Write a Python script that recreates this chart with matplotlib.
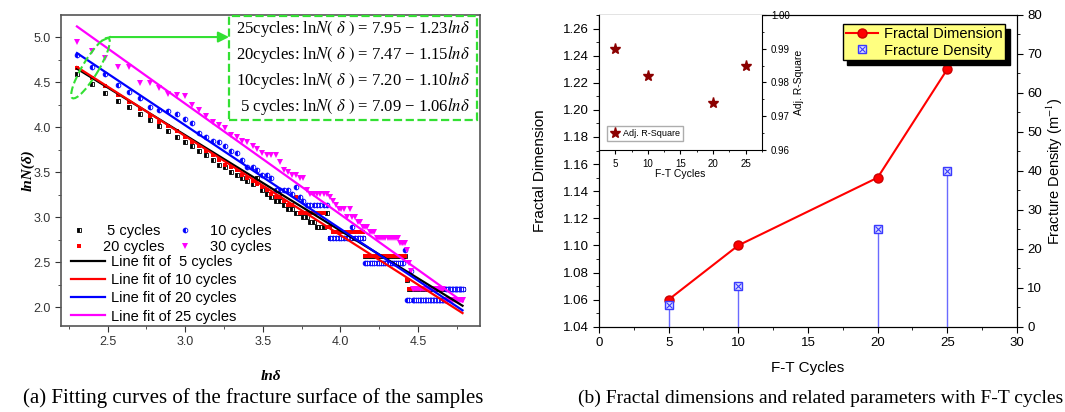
import numpy as np
import matplotlib.pyplot as plt
from matplotlib.patches import Ellipse, Rectangle
from matplotlib.transforms import IdentityTransform
from matplotlib.legend_handler import HandlerTuple
from matplotlib.ticker import MultipleLocator

plt.rcParams['font.family'] = ['Liberation Sans', 'DejaVu Sans']
plt.rcParams['mathtext.fontset'] = 'stix'

# ---------------- (a) box counting data ----------------
delta = np.arange(10, 121)  # box size

black_N = [98, 88, 80, 73, 68, 63, 59, 55, 52, 49,
           46, 44, 42, 40, 38, 36, 35, 33, 32, 31,
           30, 29, 31, 27, 26, 25, 24, 24, 23, 22,
           22, 21, 21, 20, 20, 19, 19, 18, 18, 18,
           21, 16, 16, 16, 16, 16, 16, 16, 16, 16,
           16, 16, 16, 16, 13, 13, 13, 13, 13, 13,
           13, 13, 13, 13, 13, 13, 13, 13, 13, 13,
           13, 13, 13, 13, 10, 9, 9, 9, 9, 9,
           9, 9, 9, 9, 9, 9, 9, 9, 9, 9,
           9, 9, 9, 9, 9, 9, 9, 9, 9, 9,
           9, 9, 9, 9, 9, 9, 9, 9, 9, 9, 9]
red_N = [105, 94, 86, 78, 72, 67, 62, 58, 55, 52,
         49, 46, 44, 42, 40, 38, 36, 35, 34, 32,
         31, 30, 29, 28, 27, 26, 25, 25, 24, 23,
         23, 25, 21, 21, 21, 21, 21, 21, 21, 21,
         18, 18, 17, 17, 17, 17, 17, 17, 17, 17,
         17, 17, 17, 17, 13, 13, 13, 13, 13, 13,
         13, 13, 13, 13, 13, 13, 13, 13, 13, 13,
         13, 13, 13, 13, 10, 9, 9, 9, 9, 9,
         9, 9, 9, 9, 9, 9, 9, 9, 9, 9,
         9, 9, 9, 9, 9, 9, 9, 9, 9, 9,
         9, 9, 9, 9, 9, 9, 9, 9, 9, 9, 9]
blue_N = [121, 106, 98, 87, 81, 75, 68, 66, 65, 63,
          60, 57, 51, 49, 47, 46, 44, 42, 41, 38,
          35, 35, 34, 32, 32, 31, 27, 27, 27, 27,
          26, 28, 25, 24, 23, 23, 23, 23, 23, 23,
          23, 16, 16, 16, 16, 16, 16, 16, 16, 18,
          16, 16, 16, 16, 12, 12, 12, 12, 12, 12,
          12, 12, 12, 12, 12, 12, 12, 12, 12, 12,
          12, 12, 12, 14, 8, 8, 11, 8, 8, 8,
          8, 8, 8, 8, 8, 8, 8, 8, 8, 8,
          8, 8, 8, 8, 8, 8, 8, 8, 9, 9,
          9, 9, 9, 9, 9, 9, 9, 9, 9, 9, 9]
mag_N = [141, 127, 117, 107, 106, 89, 89, 84, 79, 78,
         77, 70, 66, 62, 58, 56, 54, 50, 49, 47,
         46, 44, 43, 41, 40, 40, 40, 37, 34, 33,
         32, 32, 31, 31, 27, 26, 26, 26, 26, 26,
         26, 25, 24, 23, 22, 22, 22, 20, 22, 20,
         20, 19, 19, 18, 18, 18, 17, 17, 17, 16,
         16, 16, 16, 16, 16, 16, 16, 16, 16, 16,
         15, 15, 15, 15, 14, 12, 11, 9, 9, 9,
         9, 9, 9, 9, 9, 9, 9, 9, 9, 9,
         9, 9, 9, 9, 9, 9, 9, 8, 8, 8,
         8, 8, 8, 8, 8, 8, 8, 8, 8, 8, 8]

fit_labels = ['Line fit of  5 cycles', 'Line fit of 10 cycles',
              'Line fit of 20 cycles', 'Line fit of 25 cycles']
fit_a = [7.09, 7.20, 7.47, 7.95]
fit_b = [1.06, 1.10, 1.15, 1.23]
eq_labels = ['25cycles', '20cycles', '10cycles', ' 5 cycles']
eq_a = ['7.95', '7.47', '7.20', '7.09']
eq_b = ['1.23', '1.15', '1.10', '1.06']

# ---------------- (b) fractal dimension ----------------
cycles = [5, 10, 20, 25]
fractal_dim = [1.06, 1.10, 1.15, 1.23]
density = [5.5, 10.5, 25.2, 40.0]
adj_r2 = [0.990, 0.982, 0.974, 0.985]

green = '#33e033'
fig = plt.figure(figsize=(10.65, 4.12), dpi=100)

# ---------- left panel ----------
ax = fig.add_axes([0.0573, 0.2087, 0.3934, 0.7549])
x = np.log(delta)
ax.plot(x, np.log(black_N), ls='none', marker='s', ms=3.0, color='black',
        fillstyle='left', markerfacecoloralt='white', mew=0.6, label=' 5 cycles')
ax.plot(x, np.log(red_N), ls='none', marker='s', ms=3.2, color='red', mew=0, label='20 cycles')
ax.plot(x, np.log(blue_N), ls='none', marker='o', ms=3.4, color='blue',
        fillstyle='left', markerfacecoloralt='white', mew=0.6, label='10 cycles')
ax.plot(x, np.log(mag_N), ls='none', marker='v', ms=3.8, color='magenta', mew=0, label='30 cycles')

xf = np.array([x.min(), x.max()])
fit_colors = ['black', 'red', 'blue', 'magenta']
fit_lines = []
for a, b, c, lab in zip(fit_a, fit_b, fit_colors, fit_labels):
    ln, = ax.plot(xf, a - b * xf, color=c, lw=1.6, label=lab)
    fit_lines.append(ln)

ax.set_xlim(2.2, 4.9)
ax.set_ylim(1.79, 5.245)
ax.xaxis.set_major_locator(MultipleLocator(0.5))
ax.xaxis.set_minor_locator(MultipleLocator(0.25))
ax.yaxis.set_major_locator(MultipleLocator(0.5))
ax.yaxis.set_minor_locator(MultipleLocator(0.25))
ax.tick_params(which='both', direction='out', labelsize=9, colors='#333333')
ax.tick_params(which='major', length=4)
ax.tick_params(which='minor', length=2)
for s in ax.spines.values():
    s.set_color('#555555')
    s.set_linewidth(1.2)
ax.set_xlabel('lnδ', family='Liberation Serif', style='italic', weight='bold', fontsize=11)
ax.set_ylabel('lnN(δ)', family='Liberation Serif', style='italic', weight='bold', fontsize=11)
ax.xaxis.set_label_coords(0.5, -0.142)
ax.yaxis.set_label_coords(-0.062, 0.5)

h = ax.get_legend_handles_labels()[0]
leg1 = ax.legend([h[0], h[1], h[2], h[3]], [' 5 cycles', '20 cycles', '10 cycles', '30 cycles'],
                 ncol=2, loc='upper left', bbox_to_anchor=(0.0, 0.36), frameon=False,
                 fontsize=10.5, handlelength=1.0, handletextpad=1.2, columnspacing=0.9,
                 labelspacing=0.15, borderpad=0.2, numpoints=1)
ax.add_artist(leg1)
ax.legend(fit_lines, fit_labels, loc='lower left', bbox_to_anchor=(0.0, -0.025), frameon=False,
          fontsize=10.5, handlelength=2.3, handletextpad=0.4, labelspacing=0.28, borderpad=0.2)

# equation box
ax.add_patch(Rectangle((0.401, 0.662), 0.592, 0.335, transform=ax.transAxes, fill=True,
                       fc='white', ec=green, ls='--', lw=1.6, zorder=5))
for i, (lab, a, b) in enumerate(zip(eq_labels, eq_a, eq_b)):
    ax.text(0.975, 0.956 - i * 0.083,
            lab + r': ln$N(\ \delta\ )$ = ' + a + ' − ' + b + r'$ln\delta$',
            transform=ax.transAxes, ha='right', va='center', fontsize=12,
            family='Liberation Serif', zorder=6)

# ellipse + arrow
cx, cy = ax.transData.transform((2.39, 4.655))
ax.add_patch(Ellipse((cx, cy), 70, 16, angle=59, transform=IdentityTransform(),
                     fill=False, ec=green, ls='--', lw=1.5, clip_on=False, zorder=6))
ax.plot([2.47, 2.515], [4.965, 5.0], color=green, lw=1.5, zorder=6)
ax.annotate('', xy=(3.283, 5.0), xytext=(2.515, 5.0),
            arrowprops=dict(arrowstyle='-|>', color=green, lw=1.5, mutation_scale=16,
                            shrinkA=0, shrinkB=0), zorder=6)

# ---------- right panel ----------
ax2 = fig.add_axes([0.5624, 0.207, 0.3925, 0.7566])
h_fd, = ax2.plot(cycles, fractal_dim, '-o', color='red', ms=6.5, lw=1.5, mec='#cc0000')
ax2.set_xlim(0, 30)
ax2.set_ylim(1.04, 1.27)
ax2.xaxis.set_major_locator(MultipleLocator(5))
ax2.xaxis.set_minor_locator(MultipleLocator(2.5))
ax2.yaxis.set_major_locator(MultipleLocator(0.02))
ax2.yaxis.set_minor_locator(MultipleLocator(0.01))
ax2.tick_params(which='both', direction='out', labelsize=9.5)
ax2.tick_params(which='major', length=4)
ax2.tick_params(which='minor', length=2)
ax2.set_xlabel('F-T Cycles', fontsize=11)
ax2.set_ylabel('Fractal Dimension', fontsize=11)
ax2.xaxis.set_label_coords(0.5, -0.11)
ax2.yaxis.set_label_coords(-0.124, 0.5)

ax3 = ax2.twinx()
ax3.vlines(cycles, 0, density, color='#6a6aff', lw=1)
h_sq, = ax3.plot(cycles, density, ls='none', marker='s', ms=6, mfc='#dde0ff', mec='#3a3aff', mew=1)
h_x, = ax3.plot(cycles, density, ls='none', marker='x', ms=5, color='#3a3aff', mew=0.8)
ax3.set_ylim(0, 80)
ax3.yaxis.set_major_locator(MultipleLocator(10))
ax3.yaxis.set_minor_locator(MultipleLocator(5))
ax3.tick_params(which='both', direction='out', labelsize=9.5)
ax3.tick_params(which='major', length=4)
ax3.tick_params(which='minor', length=2)
ax3.set_ylabel('Fracture Density (m$^{-1}$)', fontsize=10.5)
ax3.yaxis.set_label_coords(1.066, 0.5)
ax3.legend([h_fd, (h_sq, h_x)], ['Fractal Dimension', 'Fracture Density'],
           handler_map={tuple: HandlerTuple(ndivide=1)}, numpoints=1,
           loc='upper right', bbox_to_anchor=(0.99, 0.993), facecolor='#ffff80',
           edgecolor='black', framealpha=1, fancybox=False,
           shadow={'ox': 3, 'oy': -3, 'color': 'black', 'alpha': 1},
           fontsize=10.5, borderpad=0.2, labelspacing=0.15, handlelength=2.2,
           handletextpad=0.4)

# inset
axi = fig.add_axes([0.5624, 0.636, 0.153, 0.3277])
axi.plot(cycles, adj_r2, ls='none', marker='*', color='#8b0000', ms=8, label='Adj. R-Square')
axi.set_xlim(2.5, 27.5)
axi.set_ylim(0.96, 1.0)
axi.yaxis.tick_right()
axi.yaxis.set_label_position('right')
axi.xaxis.set_major_locator(MultipleLocator(5))
axi.xaxis.set_minor_locator(MultipleLocator(2.5))
axi.yaxis.set_major_locator(MultipleLocator(0.01))
axi.yaxis.set_minor_locator(MultipleLocator(0.005))
axi.tick_params(which='both', direction='out', labelsize=7)
axi.tick_params(which='major', length=3)
axi.tick_params(which='minor', length=1.5)
axi.set_xlabel('F-T Cycles', fontsize=7.5)
axi.set_ylabel('Adj. R-Square', fontsize=7.5)
axi.xaxis.set_label_coords(0.5, -0.141)
axi.yaxis.set_label_coords(1.2, 0.5)
axi.spines['top'].set_visible(False)
axi.legend(loc='lower left', bbox_to_anchor=(0.05, 0.07), fontsize=6.5, fancybox=False,
           edgecolor='#999999', borderpad=0.3, handletextpad=0.3, handlelength=1.2,
           numpoints=1, borderaxespad=0)

# captions
fig.text(0.2376, 0.034, '(a) Fitting curves of the fracture surface of the samples',
         ha='center', va='center', family='Liberation Serif', fontsize=15)
fig.text(0.771, 0.034, '(b) Fractal dimensions and related parameters with F-T cycles',
         ha='center', va='center', family='Liberation Serif', fontsize=14)

fig.savefig('out.png', dpi=100)
